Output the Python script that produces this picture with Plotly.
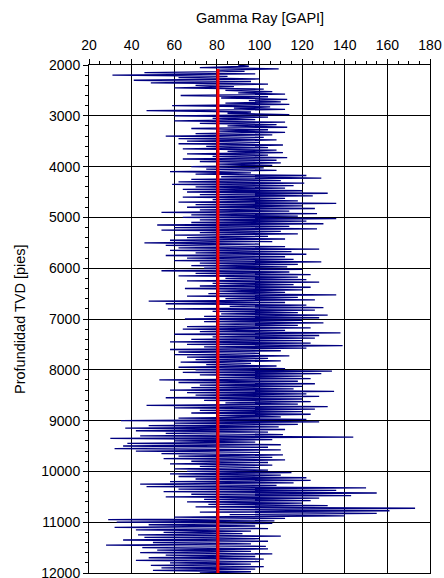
import plotly.graph_objects as go

# Depth axis: 25 ft sampling from 2000 to 12000 ft
depth_start = 2000
depth_step = 25

gr_2000_2500 = [90, 95, 72, 109, 80, 93, 46, 98, 31, 85, 62, 100, 41, 96, 49, 104, 70, 88, 60, 102]
gr_2500_3000 = [84, 106, 90, 112, 63, 104, 82, 113, 95, 110, 84, 114, 59, 105, 88, 112, 47, 96, 85, 114]
gr_3000_3500 = [60, 104, 78, 98, 60, 112, 72, 108, 85, 113, 68, 104, 80, 112, 70, 106, 56, 102, 62, 108]
gr_3500_4000 = [66, 100, 62, 111, 75, 104, 64, 108, 85, 111, 66, 104, 78, 113, 64, 108, 72, 110, 80, 106]
gr_4000_4500 = [68, 102, 75, 108, 58, 96, 70, 122, 82, 129, 68, 110, 62, 121, 59, 116, 70, 112, 64, 120]
gr_4500_5000 = [66, 132, 72, 125, 64, 112, 78, 118, 62, 136, 70, 120, 66, 126, 72, 114, 54, 127, 68, 118]
gr_5000_5500 = [64, 136, 72, 122, 68, 130, 52, 114, 60, 127, 54, 110, 72, 118, 60, 104, 66, 112, 58, 106]
gr_5500_6000 = [46, 100, 56, 112, 62, 128, 58, 115, 70, 122, 56, 112, 66, 116, 60, 129, 72, 118, 68, 113]
gr_6000_6500 = [74, 120, 54, 114, 70, 124, 62, 118, 84, 122, 66, 128, 78, 116, 72, 124, 65, 120, 80, 112]
gr_6500_7000 = [76, 136, 66, 118, 84, 126, 48, 112, 56, 122, 86, 130, 57, 126, 78, 118, 82, 132, 74, 128]
gr_7000_7500 = [65, 120, 74, 130, 80, 118, 66, 124, 64, 112, 72, 138, 60, 128, 78, 126, 68, 120, 58, 124]
gr_7500_8000 = [66, 139, 74, 122, 58, 110, 62, 100, 60, 114, 66, 104, 70, 110, 63, 96, 75, 108, 62, 112]
gr_8000_8500 = [70, 134, 64, 129, 72, 120, 80, 124, 53, 118, 62, 126, 72, 120, 68, 116, 58, 135, 66, 122]
gr_8500_9000 = [70, 128, 56, 120, 74, 124, 84, 118, 47, 132, 60, 126, 72, 120, 68, 124, 80, 110, 62, 122]
gr_9000_9500 = [35, 128, 60, 118, 48, 109, 37, 112, 42, 104, 56, 111, 44, 144, 30, 106, 60, 98, 38, 110]
gr_9500_10000 = [36, 104, 32, 110, 42, 100, 54, 111, 62, 106, 55, 112, 68, 104, 58, 106, 72, 100, 60, 104]
gr_10000_10500 = [66, 115, 58, 110, 62, 122, 70, 124, 58, 116, 44, 108, 47, 150, 62, 136, 55, 155, 68, 143]
gr_10500_11000 = [56, 128, 74, 124, 66, 120, 76, 132, 70, 173, 80, 161, 72, 155, 86, 140, 60, 112, 29, 107]
gr_11000_11500 = [33, 106, 48, 98, 32, 104, 42, 96, 55, 92, 43, 110, 46, 100, 36, 104, 50, 96, 28, 103]
gr_11500_12000 = [45, 104, 52, 96, 44, 106, 56, 98, 48, 102, 42, 100, 58, 96, 49, 102, 54, 98, 50, 96, 72]

gamma_ray = (gr_2000_2500 + gr_2500_3000 + gr_3000_3500 + gr_3500_4000 + gr_4000_4500
             + gr_4500_5000 + gr_5000_5500 + gr_5500_6000 + gr_6000_6500 + gr_6500_7000
             + gr_7000_7500 + gr_7500_8000 + gr_8000_8500 + gr_8500_9000 + gr_9000_9500
             + gr_9500_10000 + gr_10000_10500 + gr_10500_11000 + gr_11000_11500 + gr_11500_12000)
depth = [depth_start + i * depth_step for i in range(len(gamma_ray))]

cutoff_x = [80.5, 80.5]
cutoff_y = [2080, 12000]

x_ticks = [20, 40, 60, 80, 100, 120, 140, 160, 180]
y_ticks = [2000, 3000, 4000, 5000, 6000, 7000, 8000, 9000, 10000, 11000, 12000]

fig = go.Figure()
fig.add_trace(go.Scatter(x=gamma_ray, y=depth, mode="lines",
                         line=dict(color="#000080", width=1.3), showlegend=False))
fig.add_trace(go.Scatter(x=cutoff_x, y=cutoff_y, mode="lines",
                         line=dict(color="#FF0000", width=3), showlegend=False))

tick_font = dict(family="Liberation Sans, Arial, sans-serif", size=14, color="black")
title_font = dict(family="Liberation Sans, Arial, sans-serif", size=14.5, color="black")

fig.update_layout(
    width=444, height=578,
    margin=dict(l=89, r=14, t=65, b=5),
    paper_bgcolor="white", plot_bgcolor="white",
    font=tick_font,
    xaxis=dict(side="top", range=[20, 180], tickvals=x_ticks, ticktext=[str(v) for v in x_ticks],
               showgrid=True, automargin=False, ticklabeloverflow="allow", ticklabelstandoff=3,
               tickfont=tick_font,
               gridcolor="black", gridwidth=1, showline=True, linecolor="black",
               linewidth=1, mirror=True, ticks="outside", ticklen=5, tickcolor="black",
               minor=dict(dtick=5, ticks="outside", ticklen=3, tickcolor="black", showgrid=False),
               zeroline=False),
    yaxis=dict(range=[12000, 2000], tickvals=y_ticks, ticktext=[str(v) for v in y_ticks],
               showgrid=True, automargin=False, ticklabeloverflow="allow",
               tickfont=tick_font,
               gridcolor="black", gridwidth=1, showline=True, linecolor="black",
               linewidth=1, mirror=True, ticks="outside", ticklen=5, tickcolor="black",
               minor=dict(dtick=200, ticks="outside", ticklen=3, tickcolor="black", showgrid=False),
               zeroline=False),
    annotations=[
        dict(text="Gamma Ray [GAPI]", xref="paper", yref="paper", x=0.5, y=1 + (65 - 18) / 508,
             xanchor="center", yanchor="middle", showarrow=False, font=title_font),
        dict(text="Profundidad TVD [pies]", xref="paper", yref="paper", x=(20 - 89) / 341, y=0.5,
             xanchor="center", yanchor="middle", textangle=-90, showarrow=False, font=title_font),
    ],
)

fig.write_html("out.html", config={"displayModeBar": False},
               post_script="document.body.style.margin='0';document.body.style.overflow='hidden';")
